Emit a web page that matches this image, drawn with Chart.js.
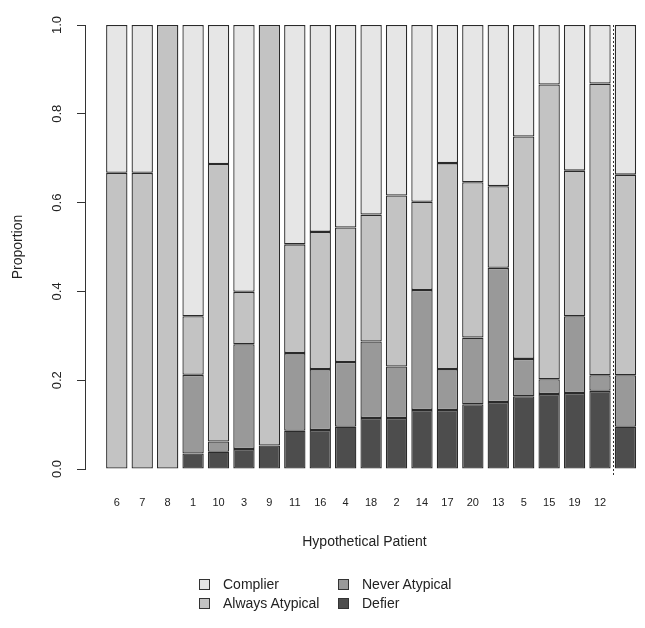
<!DOCTYPE html>
<html>
<head>
<meta charset="utf-8">
<script src="https://cdn.jsdelivr.net/npm/chart.js@4"></script>
<style>
  html, body { margin: 0; padding: 0; background: #fff; }
  #wrap { position: relative; width: 645px; height: 628px; font-family: "Liberation Sans", Arial, sans-serif; color: #222; }
  #chart { position: absolute; left: 0; top: 0; }
  .lg { position: absolute; font-size: 14px; line-height: 16px; white-space: nowrap; }
  .lg i { position: absolute; left: -24px; top: 3px; width: 9px; height: 9px; border: 1px solid #333; }
</style>
</head>
<body>
<div id="wrap">
  <canvas id="chart" width="645" height="628"></canvas>
  <div class="lg" style="left:223px;top:576px"><i style="background:#e6e6e6"></i>Complier</div>
  <div class="lg" style="left:223px;top:595px"><i style="background:#c3c3c3"></i>Always Atypical</div>
  <div class="lg" style="left:362px;top:576px"><i style="background:#999999"></i>Never Atypical</div>
  <div class="lg" style="left:362px;top:595px"><i style="background:#4d4d4d"></i>Defier</div>
</div>
<script>
// proportions per hypothetical patient
const patients = ['6', '7', '8', '1', '10', '3', '9', '11', '16', '4', '18', '2', '14', '17', '20', '13', '5', '15', '19', '12', ''];
const defier         = [0, 0, 0, 0.035, 0.039, 0.045, 0.053, 0.086, 0.088, 0.095, 0.115, 0.115, 0.133, 0.133, 0.146, 0.151, 0.164, 0.169, 0.171, 0.176, 0.095];
const neverAtypical  = [0, 0, 0, 0.177, 0.023, 0.236, 0, 0.175, 0.137, 0.146, 0.172, 0.116, 0.270, 0.092, 0.150, 0.302, 0.084, 0.033, 0.173, 0.035, 0.116];
const alwaysAtypical = [0.667, 0.667, 1, 0.132, 0.625, 0.118, 0.947, 0.245, 0.309, 0.303, 0.286, 0.385, 0.199, 0.464, 0.350, 0.184, 0.501, 0.664, 0.328, 0.657, 0.452];
const complier       = [0.333, 0.333, 0, 0.656, 0.313, 0.601, 0, 0.494, 0.466, 0.456, 0.427, 0.384, 0.398, 0.311, 0.354, 0.363, 0.251, 0.134, 0.328, 0.132, 0.337];
const yTicks = [0, 0.2, 0.4, 0.6, 0.8, 1.0];

const FONT = '"Liberation Sans", Arial, sans-serif';
const INK = '#222';

const toPoints = arr => arr.map((v, i) => ({ x: i, y: v }));
const series = (label, data, color) => ({
  label,
  data: toPoints(data),
  backgroundColor: color,
  borderColor: '#2a2a2a',
  borderWidth: 1.3,
  borderSkipped: false,
  barPercentage: 0.84,
  categoryPercentage: 1
});

// rotated y tick labels + dotted separator before the last bar
const extras = {
  id: 'extras',
  afterDraw(chart) {
    const { ctx, scales: { x, y }, chartArea } = chart;
    ctx.save();
    ctx.fillStyle = INK;
    ctx.font = '13px ' + FONT;
    ctx.textAlign = 'center';
    ctx.textBaseline = 'middle';
    yTicks.forEach(t => {
      ctx.save();
      ctx.translate(57, y.getPixelForValue(t));
      ctx.rotate(-Math.PI / 2);
      ctx.fillText(t.toFixed(1), 0, 0);
      ctx.restore();
    });
    const sx = Math.round(x.getPixelForValue(patients.length - 1.5)) + 0.5;
    ctx.strokeStyle = '#333';
    ctx.lineWidth = 1;
    ctx.setLineDash([2, 2]);
    ctx.beginPath();
    ctx.moveTo(sx, chartArea.top);
    ctx.lineTo(sx, chartArea.bottom + 6);
    ctx.stroke();
    ctx.restore();
  }
};

new Chart(document.getElementById('chart'), {
  type: 'bar',
  data: {
    datasets: [
      series('Defier', defier, '#4d4d4d'),
      series('Never Atypical', neverAtypical, '#999999'),
      series('Always Atypical', alwaysAtypical, '#c3c3c3'),
      series('Complier', complier, '#e6e6e6')
    ]
  },
  options: {
    responsive: false,
    animation: false,
    events: [],
    layout: { padding: { top: 25, right: 1, bottom: 77, left: 0 } },
    plugins: { legend: { display: false }, tooltip: { enabled: false } },
    scales: {
      x: {
        type: 'linear',
        stacked: true,
        offset: false,
        min: -1.25,
        max: 20.73,
        afterFit: s => { s.height = 82; s.paddingLeft = 0; s.paddingRight = 0; },
        afterBuildTicks: s => { s.ticks = patients.map((_, i) => ({ value: i })); },
        grid: { display: false, drawTicks: false },
        border: { display: false },
        ticks: {
          autoSkip: false,
          maxRotation: 0,
          padding: 27,
          color: INK,
          font: { family: FONT, size: 11 },
          callback: v => patients[v] ?? ''
        },
        title: {
          display: true,
          text: 'Hypothetical Patient',
          color: INK,
          padding: { top: 0, bottom: 0 },
          font: { family: FONT, size: 14 }
        }
      },
      y: {
        stacked: true,
        min: 0,
        max: 1,
        afterFit: s => { s.width = 85; },
        afterBuildTicks: s => { s.ticks = yTicks.map(v => ({ value: v })); },
        grid: { drawOnChartArea: false, drawTicks: true, tickLength: 8, color: '#333' },
        border: { display: true, color: '#333', width: 1 },
        ticks: { display: false },
        title: {
          display: true,
          text: 'Proportion',
          color: INK,
          padding: { top: 10, bottom: 0 },
          font: { family: FONT, size: 14 }
        }
      }
    }
  },
  plugins: [extras]
});
</script>
</body>
</html>
